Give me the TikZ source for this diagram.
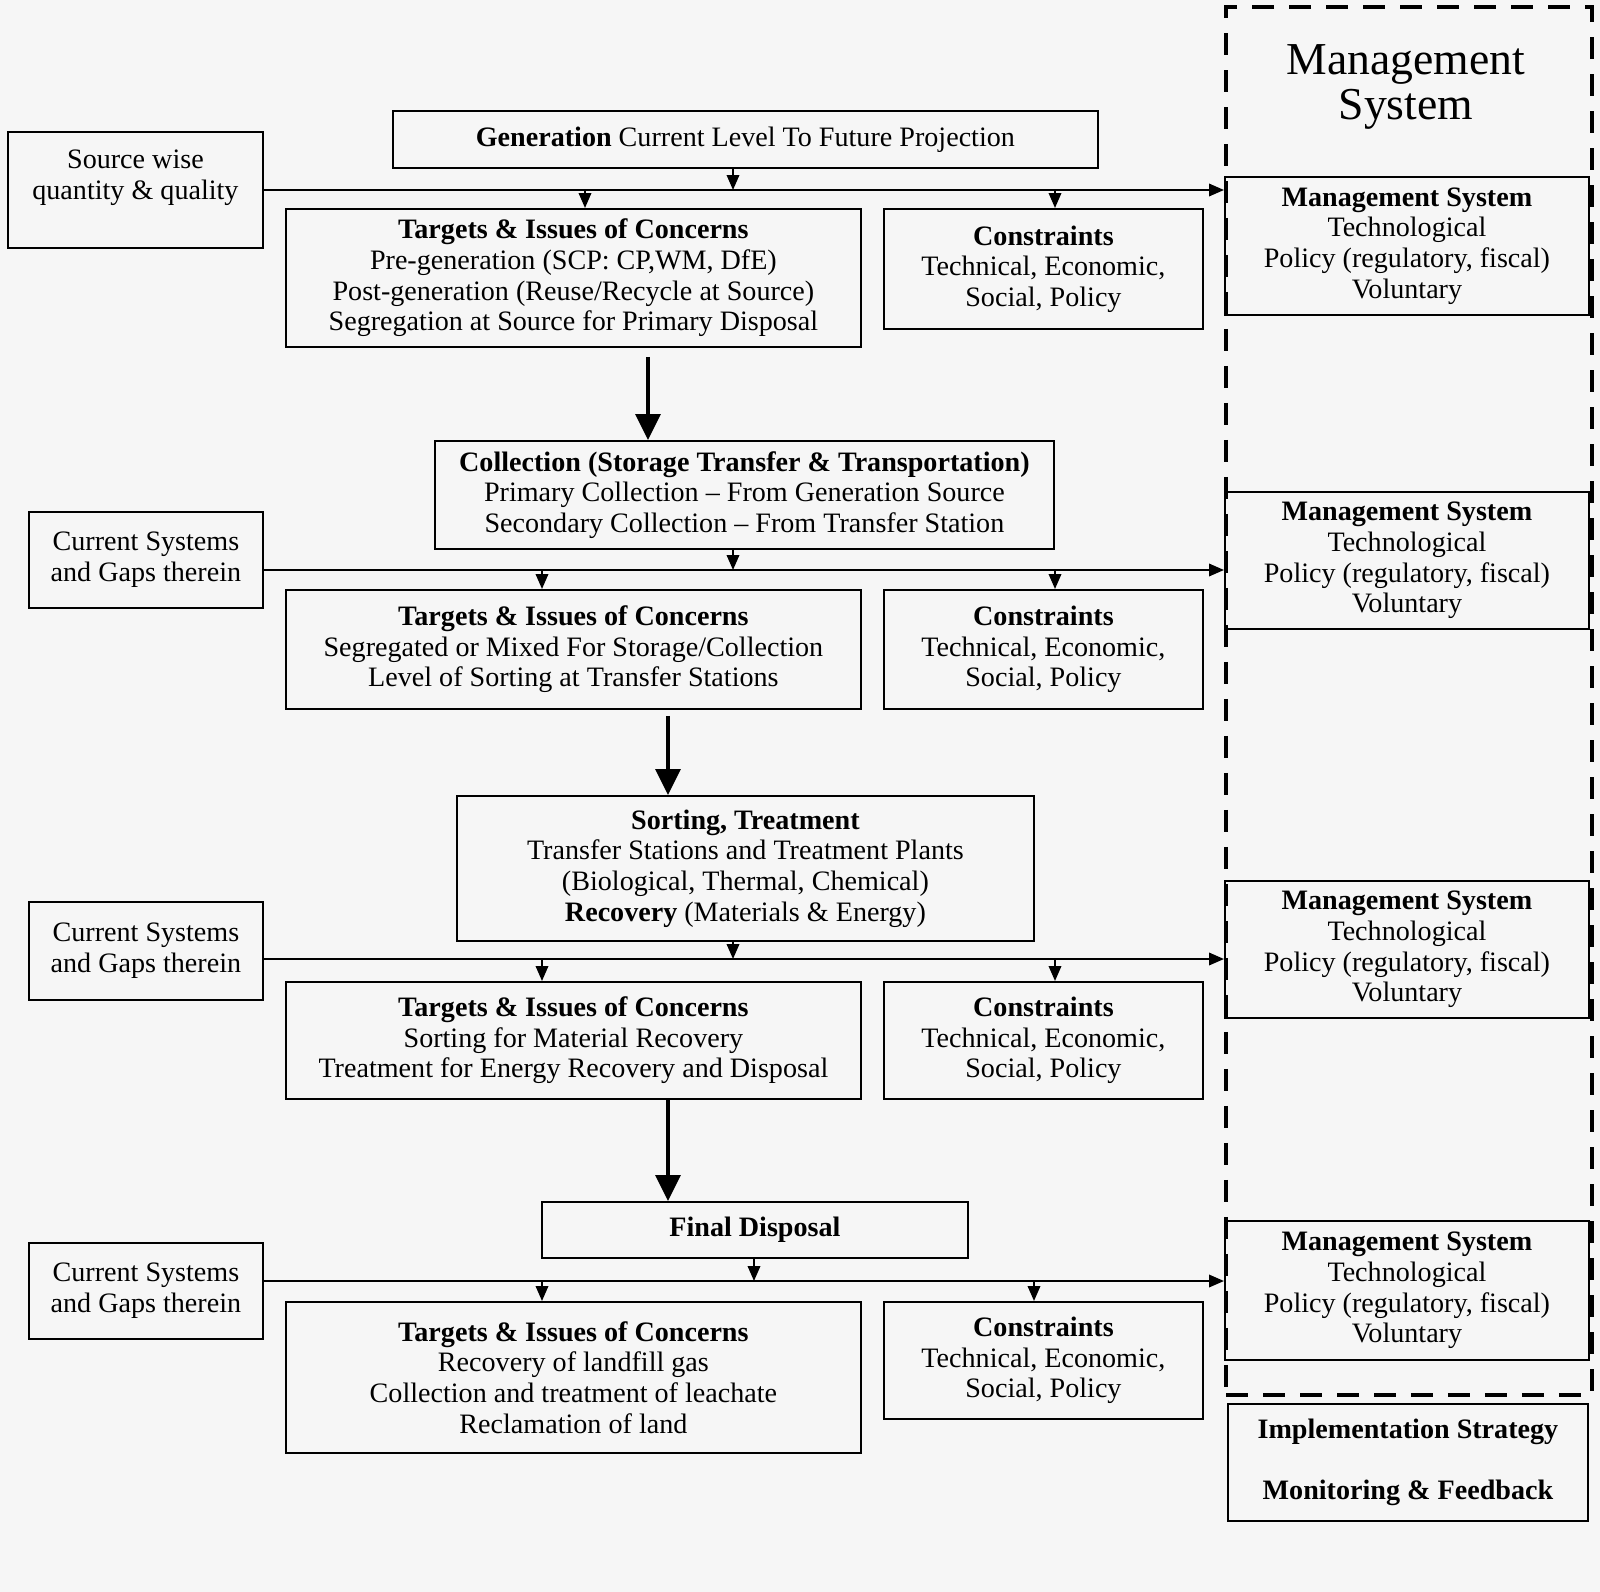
\documentclass[tikz,border=0pt]{standalone}
\usepackage{fontspec}
\setmainfont{Liberation Serif}
\usepackage{xcolor}
\definecolor{paper}{RGB}{246, 246, 246}
\usepackage{tikz}
\usetikzlibrary{arrows.meta, positioning, calc}

\begin{document}
\begin{tikzpicture}[x=0.02cm, y=-0.02cm,
    box/.style={draw, line width=1.1pt, anchor=north west, align=center, inner sep=0pt,
                font=\fontsize{16}{17.4}\selectfont},
    smallarr/.style={line width=1.1pt, -{Triangle[width=0.25cm, length=0.3cm]}},
    bigarr/.style={line width=1.8pt, -{Triangle[width=0.5cm, length=0.52cm]}}]
    \fill[paper] (0,0) rectangle (1600,1592);
    \useasboundingbox (0,0) rectangle (1600,1592);

    % management frame on the right
    \node[draw, line width=2.3pt, dash pattern=on 0.44cm off 0.3cm, anchor=north west,
          minimum width=7.32cm, minimum height=27.76cm, inner sep=0pt] (msframe) at (1224,5) {};
    \node[align=center, font=\fontsize{26}{26}\selectfont] (mstitle) at (1406,87) {Management\\System};

    % stage 1: generation
    \node[box, minimum width=14.1cm, minimum height=1.14cm] (gen) at (392,110)
        {\textbf{Generation} Current Level To Future Projection};
    \node[box, minimum width=5.1cm, minimum height=2.32cm] (src) at (7,131)
        {Source wise\\quantity \& quality\\\mbox{}};
    \node[box, minimum width=11.5cm, minimum height=2.76cm] (tgt1) at (285,208)
        {\textbf{Targets \& Issues of Concerns}\\Pre-generation (SCP: CP,WM, DfE)\\
         Post-generation (Reuse/Recycle at Source)\\Segregation at Source for Primary Disposal};
    \node[box, minimum width=6.38cm, minimum height=2.4cm] (con1) at (883,208)
        {\textbf{Constraints}\\Technical, Economic,\\Social, Policy};
    \node[box, minimum width=7.28cm, minimum height=2.76cm] (ms1) at (1224,176)
        {\textbf{Management System}\\Technological\\Policy (regulatory, fiscal)\\Voluntary};

    % stage 2: collection
    \node[box, minimum width=12.38cm, minimum height=2.16cm] (col) at (434,440)
        {\textbf{Collection (Storage Transfer \& Transportation)}\\
         Primary Collection -- From Generation Source\\Secondary Collection -- From Transfer Station};
    \node[box, minimum width=4.68cm, minimum height=1.92cm] (cur1) at (28,511)
        {Current Systems\\and Gaps therein};
    \node[box, minimum width=11.5cm, minimum height=2.38cm] (tgt2) at (285,589)
        {\textbf{Targets \& Issues of Concerns}\\Segregated or Mixed For Storage/Collection\\
         Level of Sorting at Transfer Stations};
    \node[box, minimum width=6.38cm, minimum height=2.38cm] (con2) at (883,589)
        {\textbf{Constraints}\\Technical, Economic,\\Social, Policy};
    \node[box, minimum width=7.28cm, minimum height=2.74cm] (ms2) at (1224,491)
        {\textbf{Management System}\\Technological\\Policy (regulatory, fiscal)\\Voluntary};

    % stage 3: sorting and treatment
    \node[box, minimum width=11.54cm, minimum height=2.9cm] (sort) at (456,795)
        {\textbf{Sorting, Treatment}\\Transfer Stations and Treatment Plants\\
         (Biological, Thermal, Chemical)\\\textbf{Recovery} (Materials \& Energy)};
    \node[box, minimum width=4.68cm, minimum height=1.96cm] (cur2) at (28,901)
        {Current Systems\\and Gaps therein};
    \node[box, minimum width=11.5cm, minimum height=2.34cm] (tgt3) at (285,981)
        {\textbf{Targets \& Issues of Concerns}\\Sorting for Material Recovery\\
         Treatment for Energy Recovery and Disposal};
    \node[box, minimum width=6.38cm, minimum height=2.34cm] (con3) at (883,981)
        {\textbf{Constraints}\\Technical, Economic,\\Social, Policy};
    \node[box, minimum width=7.28cm, minimum height=2.74cm] (ms3) at (1224,880)
        {\textbf{Management System}\\Technological\\Policy (regulatory, fiscal)\\Voluntary};

    % stage 4: final disposal
    \node[box, minimum width=8.52cm, minimum height=1.12cm] (fin) at (541,1201)
        {\textbf{Final Disposal}};
    \node[box, minimum width=4.68cm, minimum height=1.92cm] (cur3) at (28,1242)
        {Current Systems\\and Gaps therein};
    \node[box, minimum width=11.5cm, minimum height=3.02cm] (tgt4) at (285,1301)
        {\textbf{Targets \& Issues of Concerns}\\Recovery of landfill gas\\
         Collection and treatment of leachate\\Reclamation of land};
    \node[box, minimum width=6.38cm, minimum height=2.34cm] (con4) at (883,1301)
        {\textbf{Constraints}\\Technical, Economic,\\Social, Policy};
    \node[box, minimum width=7.28cm, minimum height=2.78cm] (ms4) at (1224,1220)
        {\textbf{Management System}\\Technological\\Policy (regulatory, fiscal)\\Voluntary};

    \node[box, minimum width=7.2cm, minimum height=2.34cm] (impl) at (1227,1403)
        {\textbf{Implementation Strategy}\\[17.4pt]\textbf{Monitoring \& Feedback}};

    % bus lines and tap points
    \coordinate (bus1) at (0,190);
    \coordinate (bus2) at (0,570);
    \coordinate (bus3) at (0,959);
    \coordinate (bus4) at (0,1281);
    \coordinate (xdown) at (733,0);
    \coordinate (xdownb) at (754,0);
    \coordinate (xup1) at (585,0);
    \coordinate (xup) at (542,0);
    \coordinate (xcon) at (1055,0);
    \coordinate (xconb) at (1034,0);
    \coordinate (xbig1) at (648,0);
    \coordinate (xbig) at (668,0);

    \draw[smallarr] (src.east |- bus1) -- (ms1.west |- bus1);
    \draw[smallarr] (gen.south -| xdown) -- (bus1 -| xdown);
    \draw[smallarr] (bus1 -| xup1) -- (tgt1.north -| xup1);
    \draw[smallarr] (bus1 -| xcon) -- (con1.north -| xcon);

    \draw[smallarr] (cur1.east |- bus2) -- (ms2.west |- bus2);
    \draw[smallarr] (col.south -| xdown) -- (bus2 -| xdown);
    \draw[smallarr] (bus2 -| xup) -- (tgt2.north -| xup);
    \draw[smallarr] (bus2 -| xcon) -- (con2.north -| xcon);

    \draw[smallarr] (cur2.east |- bus3) -- (ms3.west |- bus3);
    \draw[smallarr] (sort.south -| xdown) -- (bus3 -| xdown);
    \draw[smallarr] (bus3 -| xup) -- (tgt3.north -| xup);
    \draw[smallarr] (bus3 -| xcon) -- (con3.north -| xcon);

    \draw[smallarr] (cur3.east |- bus4) -- (ms4.west |- bus4);
    \draw[smallarr] (fin.south -| xdownb) -- (bus4 -| xdownb);
    \draw[smallarr] (bus4 -| xup) -- (tgt4.north -| xup);
    \draw[smallarr] (bus4 -| xconb) -- (con4.north -| xconb);

    % main flow
    \draw[bigarr, shorten <=0.18cm] (tgt1.south -| xbig1) -- (col.north -| xbig1);
    \draw[bigarr, shorten <=0.12cm] (tgt2.south -| xbig) -- (sort.north -| xbig);
    \draw[bigarr] (tgt3.south -| xbig) -- (fin.north -| xbig);
\end{tikzpicture}
\end{document}
